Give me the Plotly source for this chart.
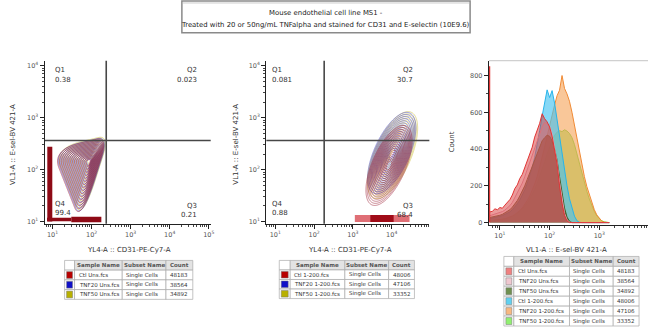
import numpy as np
import plotly.graph_objects as go

W, H = 652, 329
FONT = "DejaVu Sans"

# ---------------- data ----------------
title_lines = ["Mouse endothelial cell line MS1 -",
               "Treated with 20 or 50ng/mL TNFalpha and stained for CD31 and E-selectin (10E9.6)"]
x_title_dot = "YL4-A :: CD31-PE-Cy7-A"
y_title_dot = "VL1-A :: E-sel-BV 421-A"
x_title_hist = "VL1-A :: E-sel-BV 421-A"
y_title_hist = "Count"

table_header = ["Sample Name", "Subset Name", "Count"]
subset_name = "Single Cells"
names_uns = ["Ctl Uns.fcs", "TNF20 Uns.fcs", "TNF50 Uns.fcs"]
counts_uns = [48183, 38564, 34892]
names_stn = ["Ctl 1-200.fcs", "TNF20 1-200.fcs", "TNF50 1-200.fcs"]
counts_stn = [48006, 47106, 33352]
names_hist = names_uns + names_stn
counts_hist = counts_uns + counts_stn

quad_labels = ["Q1", "Q2", "Q3", "Q4"]
quad_vals_uns = ["0.38", "0.023", "0.21", "99.4"]
quad_vals_stn = ["0.081", "30.7", "68.4", "0.88"]

# all fluorescence positions below are log10 (decades)
gate_uns = [2.375, 2.56]          # quadrant gate x, y
gate_stn = [2.26, 2.56]

# panel 1 (unstained): rounded-triangle population, peak + outer vertices
uns_peak_x = [1.93, 1.95, 1.97]   # Ctl, TNF20, TNF50
uns_peak_y = [2.15, 2.16, 2.18]
uns_vert_x = [0.98, 2.42, 1.72]   # top-left, top-right, bottom tip
uns_vert_y = [2.38, 2.64, 0.98]

# panel 2 (stained) populations
stn_cx = [3.93, 4.00, 4.02]
stn_cy = [2.08, 2.32, 2.28]
stn_sx = [0.22, 0.23, 0.24]
stn_sy = [0.285, 0.29, 0.31]
stn_rho = [0.62, 0.62, 0.62]

# events piled on the axis minimum (Ctl sample)
uns_edge_left_x = 0.93
uns_edge_left_y = [1.0, 2.44]
uns_edge_bottom_y = 1.04
uns_edge_bottom_x = [0.86, 1.48, 2.25]
stn_edge_bottom_y = 1.06
stn_edge_bottom_x = [3.05, 3.45, 4.05, 4.46]

# histogram: log10 bin centre and counts
hist_lx = [0.80, 0.85, 0.90, 0.95, 1.00, 1.05, 1.10, 1.15, 1.20, 1.25, 1.30, 1.35,
           1.40, 1.45, 1.50, 1.55, 1.60, 1.65, 1.70, 1.75, 1.80, 1.85, 1.90, 1.95,
           2.00, 2.05, 2.10, 2.15, 2.20, 2.25, 2.30, 2.35, 2.40, 2.45, 2.50, 2.55,
           2.60, 2.65, 2.70, 2.75, 2.80, 2.85, 2.90, 2.95, 3.00, 3.05, 3.10, 3.15, 3.20]
h_ctl_uns = [58, 62, 75, 70, 82, 78, 95, 110, 125, 150, 185, 205, 240, 262, 300, 345,
             380, 410, 465, 500, 540, 592, 565, 548, 520, 470, 392, 320, 200, 105, 40, 10,
             0, 0, 0, 0, 0, 0, 0, 0, 0, 0, 0, 0, 0, 0, 0, 0, 0]
h_tnf20_uns = [38, 42, 48, 50, 55, 60, 68, 78, 92, 110, 135, 160, 185, 215, 250, 290,
               325, 365, 410, 450, 490, 520, 545, 538, 525, 480, 405, 330, 220, 120, 50, 15,
               3, 0, 0, 0, 0, 0, 0, 0, 0, 0, 0, 0, 0, 0, 0, 0, 0]
h_tnf50_uns = [28, 30, 33, 36, 40, 45, 52, 60, 70, 84, 100, 120, 145, 170, 200, 235,
               270, 305, 345, 385, 420, 445, 462, 475, 470, 445, 400, 340, 250, 160, 80, 30,
               8, 0, 0, 0, 0, 0, 0, 0, 0, 0, 0, 0, 0, 0, 0, 0, 0]
h_ctl_stn = [22, 24, 27, 30, 34, 38, 44, 50, 58, 70, 85, 102, 122, 148, 178, 212,
             252, 300, 355, 420, 500, 580, 650, 722, 680, 718, 650, 560, 470, 380, 280, 200,
             130, 75, 35, 10, 2, 0, 0, 0, 0, 0, 0, 0, 0, 0, 0, 0, 0]
h_tnf20_stn = [10, 11, 12, 14, 16, 18, 21, 25, 30, 36, 44, 54, 66, 80, 98, 120,
               145, 175, 210, 250, 300, 350, 410, 470, 530, 580, 640, 690, 720, 800, 730, 700,
               660, 600, 530, 455, 380, 310, 250, 195, 150, 105, 70, 42, 22, 8, 2, 0, 0]
h_tnf50_stn = [10, 11, 12, 13, 15, 17, 20, 24, 28, 34, 41, 50, 60, 73, 88, 106,
               128, 152, 180, 212, 248, 288, 330, 372, 412, 448, 475, 492, 500, 495, 505, 498,
               485, 462, 425, 372, 320, 268, 222, 170, 128, 88, 60, 36, 20, 10, 4, 1, 0]
hist_edge_x = 0.785
hist_edge_count = 850

# colours
dot_colors = ["#9b1b30", "#3b3bc8", "#c9b92a"]
swatch_dot = ["#b80000", "#1010c8", "#b8b000"]
hist_line = ["#e03434", "#e0a8b8", "#4c5c24", "#28b4ea", "#f08a34", "#6cd83c"]
hist_fill = ["rgba(215,55,55,0.5)", "rgba(230,180,190,0.3)", "rgba(90,70,35,0.68)",
             "rgba(70,195,240,0.65)", "rgba(245,165,90,0.62)", "rgba(140,225,80,0.7)"]
swatch_hist = ["#f08080", "#f0c8d0", "#6f9050", "#60d0f0", "#f8b880", "#90f070"]


def px(x):
    return x / W


def py(y):
    return 1 - y / H


fig = go.Figure()
gx = np.linspace(0.7, 5.1, 300)
gy = np.linspace(0.9, 4.2, 260)
GX, GY = np.meshgrid(gx, gy)


def tri_gauge(cx, cy, vx, vy, p=2.5):
    g = np.zeros_like(GX)
    for i in range(3):
        j = (i + 1) % 3
        ex, ey = vx[j] - vx[i], vy[j] - vy[i]
        nx, ny = ey, -ex
        d = nx * (vx[i] - cx) + ny * (vy[i] - cy)
        if d < 0:
            nx, ny, d = -nx, -ny, -d
        gi = (nx * (GX - cx) + ny * (GY - cy)) / d
        g += np.maximum(gi, 0) ** p
    return -(g ** (1 / p))


def gauss_r(cx, cy, sx, sy, rho):
    u = (GX - cx) / sx
    v = (GY - cy) / sy
    q = (u * u - 2 * rho * u * v + v * v) / (1 - rho * rho)
    return -np.sqrt(q)


def contour(Z, xa, ya, color, start, end, size, op):
    fig.add_trace(go.Contour(x=gx, y=gy, z=Z, xaxis=xa, yaxis=ya, autocontour=False,
                             contours=dict(start=start, end=end, size=size, coloring="none"),
                             line=dict(color=color, width=0.7), opacity=op,
                             showscale=False, hoverinfo="skip"))


def seg(x, y, xa, ya, color, width):
    fig.add_trace(go.Scatter(x=x, y=y, mode="lines", line=dict(color=color, width=width),
                             xaxis=xa, yaxis=ya, hoverinfo="skip"))


# ---- panel 1 ----
for i in [2, 1, 0]:
    dx = uns_peak_x[i] - uns_peak_x[0]
    dy = uns_peak_y[i] - uns_peak_y[0]
    Z = tri_gauge(uns_peak_x[i], uns_peak_y[i], [v + dx for v in uns_vert_x],
                  [v + dy for v in uns_vert_y])
    contour(Z, "x", "y", dot_colors[i], -1.0, -0.08, 0.06, 0.8)
seg([uns_edge_left_x] * 2, uns_edge_left_y, "x", "y", "#8e0a16", 5)
seg(uns_edge_bottom_x[:2], [uns_edge_bottom_y] * 2, "x", "y", "#8e0a16", 3.5)
seg(uns_edge_bottom_x[1:], [uns_edge_bottom_y] * 2, "x", "y", "#8e0a16", 5.5)

# ---- panel 2 ----
for i in [2, 1, 0]:
    Z = gauss_r(stn_cx[i], stn_cy[i], stn_sx[i], stn_sy[i], stn_rho[i])
    contour(Z, "x2", "y2", dot_colors[i], -2.7, -0.2, 0.14, 0.75)
seg([stn_edge_bottom_x[0], stn_edge_bottom_x[-1]], [stn_edge_bottom_y] * 2, "x2", "y2",
    "rgba(210,50,60,0.7)", 7)
seg(stn_edge_bottom_x[1:3], [stn_edge_bottom_y] * 2, "x2", "y2", "#a00c18", 7)

# quadrant lines
for (g, xa, ya) in [(gate_uns, "x", "y"), (gate_stn, "x2", "y2")]:
    seg([g[0], g[0]], [0.9, 4.2], xa, ya, "#474747", 1.6)
    seg([0.7, 5.1], [g[1], g[1]], xa, ya, "#474747", 1.6)

# ---- histogram ----
hist_series = [h_ctl_uns, h_tnf20_uns, h_tnf50_uns, h_ctl_stn, h_tnf20_stn, h_tnf50_stn]
for i in [5, 4, 3, 2, 1, 0]:
    fig.add_trace(go.Scatter(x=hist_lx, y=hist_series[i], mode="lines", fill="tozeroy",
                             fillcolor=hist_fill[i], line=dict(color=hist_line[i], width=1),
                             xaxis="x3", yaxis="y3", hoverinfo="skip"))
seg([hist_edge_x] * 2, [0, hist_edge_count], "x3", "y3", "#e03434", 2)

# ---- axes ----
dec_vals = [1, 2, 3, 4, 5]
dec_text = ["10<sup>1</sup>", "10<sup>2</sup>", "10<sup>3</sup>", "10<sup>4</sup>", "10<sup>5</sup>"]
minor_vals = [float(d + np.log10(k)) for d in range(0, 5) for k in range(2, 10)]
axcommon = dict(showgrid=False, zeroline=False, showline=True, linecolor="#222", linewidth=1.4,
                ticks="outside", ticklen=4, tickcolor="#222", tickwidth=1,
                tickfont=dict(family=FONT, size=6.5, color="#555"))
minor = dict(ticks="outside", ticklen=2, tickcolor="#444", tickmode="array", tickvals=minor_vals)

fig.update_layout(
    width=W, height=H, margin=dict(l=0, r=0, t=0, b=0),
    paper_bgcolor="white", plot_bgcolor="white", showlegend=False,
    font=dict(family=FONT),
    xaxis=dict(domain=[px(45), px(212)], range=[0.8, 5.05], anchor="y",
               tickvals=dec_vals, ticktext=dec_text, minor=minor, **axcommon),
    yaxis=dict(domain=[py(225), py(61)], range=[0.96, 4.1], anchor="x",
               tickvals=dec_vals[:4], ticktext=dec_text[:4], minor=minor, **axcommon),
    xaxis2=dict(domain=[px(268), px(432)], range=[0.77, 4.97], anchor="y2",
                tickvals=dec_vals, ticktext=dec_text, minor=minor, **axcommon),
    yaxis2=dict(domain=[py(225), py(61)], range=[0.96, 4.1], anchor="x2",
                tickvals=dec_vals[:4], ticktext=dec_text[:4], minor=minor, **axcommon),
    xaxis3=dict(domain=[px(492), px(652)], range=[0.78, 3.98], anchor="y3",
                tickvals=dec_vals[:4], ticktext=dec_text[:4], minor=minor, **axcommon),
    yaxis3=dict(domain=[py(226), py(61)], range=[-11, 881], anchor="x3",
                tickvals=[0, 200, 400, 600, 800],
                minor=dict(ticks="outside", ticklen=2, tickcolor="#444", dtick=100), **axcommon),
)

ann = []
shapes = []


def text(x, y, s, size=7, anchor="left", color="#333", angle=0):
    ann.append(dict(x=px(x), y=py(y), xref="paper", yref="paper", text=s, showarrow=False,
                    xanchor=anchor, yanchor="middle", textangle=angle,
                    font=dict(family=FONT, size=size, color=color)))


def rect(x0, y0, x1, y1, fill, line="#aaaaaa", lw=0.7):
    shapes.append(dict(type="rect", xref="paper", yref="paper", x0=px(x0), x1=px(x1),
                       y0=py(y1), y1=py(y0), fillcolor=fill, line=dict(color=line, width=lw),
                       layer="above"))


def table(x0, y0, widths, rh, names, counts, swatches):
    edges = [x0]
    for w in widths:
        edges.append(edges[-1] + w)
    rect(edges[0], y0, edges[1], y0 + rh, "white")
    for c in range(3):
        rect(edges[c + 1], y0, edges[c + 2], y0 + rh, "#e3e3e3")
        text((edges[c + 1] + edges[c + 2]) / 2, y0 + rh / 2, "<b>" + table_header[c] + "</b>",
             size=5.5, anchor="center", color="#555")
    for r, (nm, ct) in enumerate(zip(names, counts)):
        ya = y0 + rh * (r + 1)
        for c in range(4):
            rect(edges[c], ya, edges[c + 1], ya + rh, "white")
        rect(edges[0] + 2, ya + 1.5, edges[1] - 2, ya + rh - 1.5, swatches[r], line="#777777", lw=0.5)
        vals = [nm, subset_name, str(ct)]
        for c in range(3):
            text(edges[c + 1] + 2, ya + rh / 2, vals[c], size=5.5, color="#333")


table(65, 262, [10, 48, 44, 27], 9.8, names_uns, counts_uns, swatch_dot)
table(281, 262, [11, 55, 44, 26], 9.6, names_stn, counts_stn, swatch_dot)
table(507, 258, [10, 56, 44, 26], 10, names_hist, counts_hist, swatch_hist)

# title box
shapes.append(dict(type="rect", xref="paper", yref="paper", x0=px(183), x1=px(473), y0=py(33),
                   y1=py(1), line=dict(color="#8a8a8a", width=1.5), fillcolor="rgba(0,0,0,0)"))
shapes.append(dict(type="line", xref="paper", yref="paper", x0=px(184), x1=px(472), y0=py(3),
                   y1=py(3), line=dict(color="#cccccc", width=1)))
shapes.append(dict(type="line", xref="paper", yref="paper", x0=px(492), x1=px(652), y0=py(61),
                   y1=py(61), line=dict(color="#d0d0d0", width=1.2)))
text(328, 13, title_lines[0], size=6.9, anchor="center", color="#222")
text(328, 25, title_lines[1], size=6.9, anchor="center", color="#222")

# quadrant labels
for (xl, xr, vals) in [(53, 200, quad_vals_uns), (272, 418, quad_vals_stn)]:
    text(xl, 70, quad_labels[0]); text(xl, 80, vals[0])
    text(xr, 70, quad_labels[1], anchor="right"); text(xr, 80, vals[1], anchor="right")
    text(xr, 207, quad_labels[2], anchor="right"); text(xr, 216, vals[2], anchor="right")
    text(xl, 205, quad_labels[3]); text(xl, 214, vals[3])

# axis titles
text(130, 252, x_title_dot, size=7, anchor="center")
text(352, 252, x_title_dot, size=7, anchor="center")
text(570, 252, x_title_hist, size=7, anchor="center")
text(13, 145, y_title_dot, size=7, anchor="center", angle=-90)
text(238, 145, y_title_dot, size=7, anchor="center", angle=-90)
text(455, 143, y_title_hist, size=7, anchor="center", angle=-90)

fig.update_layout(annotations=ann, shapes=shapes)

fig.write_html("out.html", config={"displayModeBar": False},
               post_script="document.body.style.margin='0px';")
